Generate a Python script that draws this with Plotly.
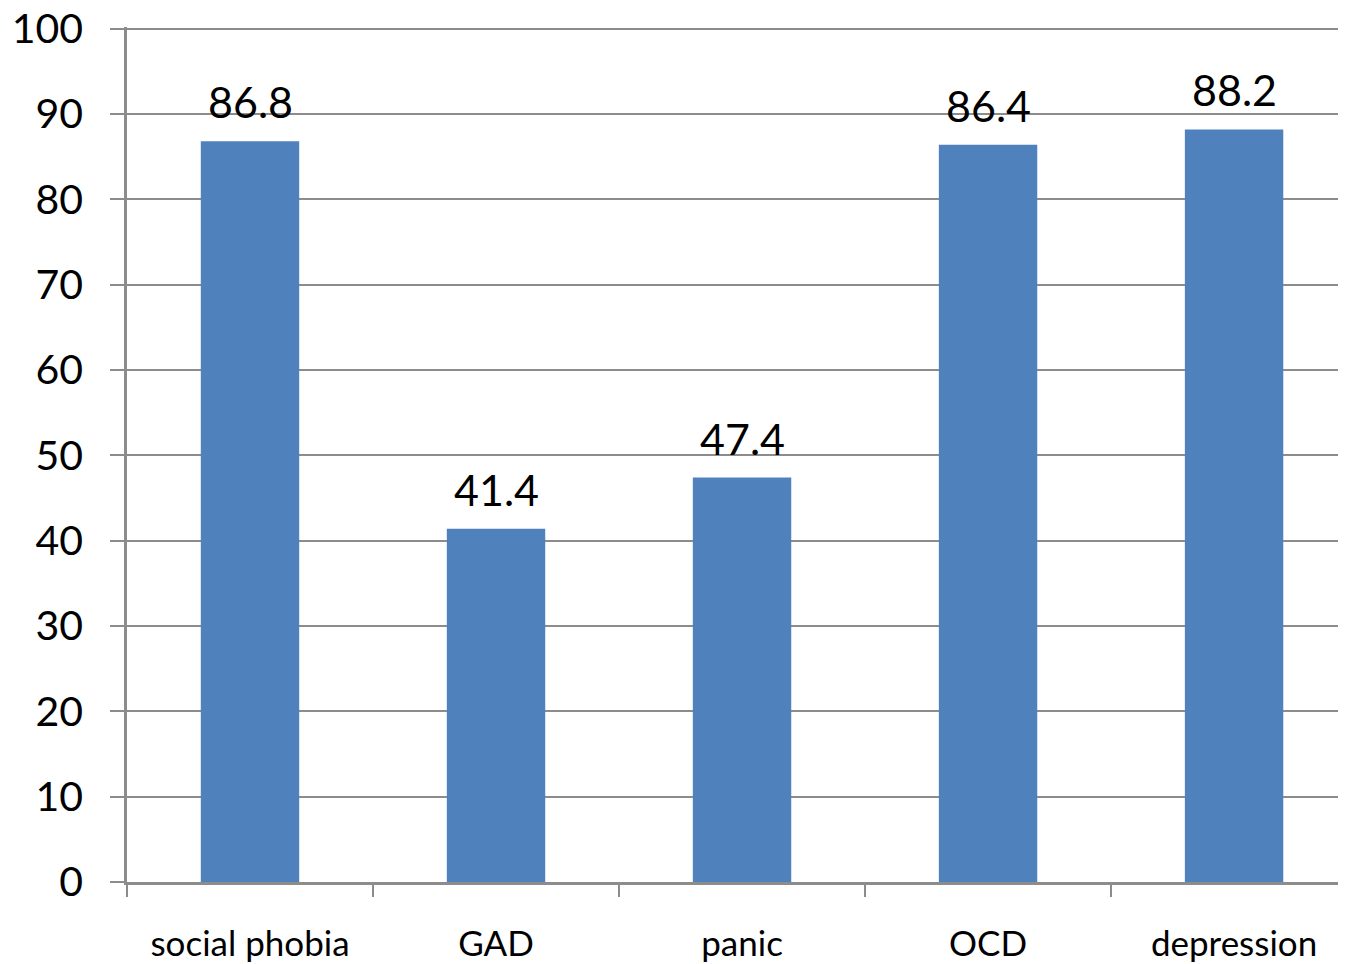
import plotly.graph_objects as go

categories = ["social phobia", "GAD", "panic", "OCD", "depression"]
values = [86.8, 41.4, 47.4, 86.4, 88.2]
y_ticks = [0, 10, 20, 30, 40, 50, 60, 70, 80, 90, 100]

bar_color = "#4F81BD"
grid_color = "#8C8C8C"
font_family = "Lato, 'Open Sans', sans-serif"

fig = go.Figure()
fig.add_trace(go.Bar(
    x=categories,
    y=values,
    width=0.4,
    marker=dict(color=bar_color, line=dict(width=0)),
    hoverinfo="skip",
))

for cat, v in zip(categories, values):
    fig.add_annotation(
        x=cat, y=v, text=f"{v}", showarrow=False,
        yanchor="bottom", xanchor="center", yshift=12,
        font=dict(size=43, color="black", family=font_family),
    )

fig.update_layout(
    width=1346, height=964,
    margin=dict(l=119, r=8, t=19, b=90),
    paper_bgcolor="white", plot_bgcolor="white",
    showlegend=False,
    font=dict(family=font_family, color="black"),
)

fig.update_xaxes(
    type="category",
    range=[-0.5, 4.455],
    tickson="boundaries",
    ticks="outside", ticklen=12, tickwidth=2, tickcolor=grid_color,
    showline=True, linecolor=grid_color, linewidth=2.5,
    showgrid=False, zeroline=False,
    tickfont=dict(size=35, color="black", family=font_family),
    ticklabelstandoff=29,
    ticklabeloverflow="allow",
    automargin=False,
)

fig.update_yaxes(
    range=[0, 100.2],
    tickmode="array", tickvals=y_ticks,
    ticks="outside", ticklen=14, tickwidth=2, tickcolor=grid_color,
    showline=True, linecolor=grid_color, linewidth=2.5,
    showgrid=True, gridcolor=grid_color, gridwidth=1.5,
    zeroline=False,
    tickfont=dict(size=41, color="black", family=font_family),
    ticklabelstandoff=19,
    ticklabeloverflow="allow",
    automargin=False,
)

fig.write_html("out.html")
